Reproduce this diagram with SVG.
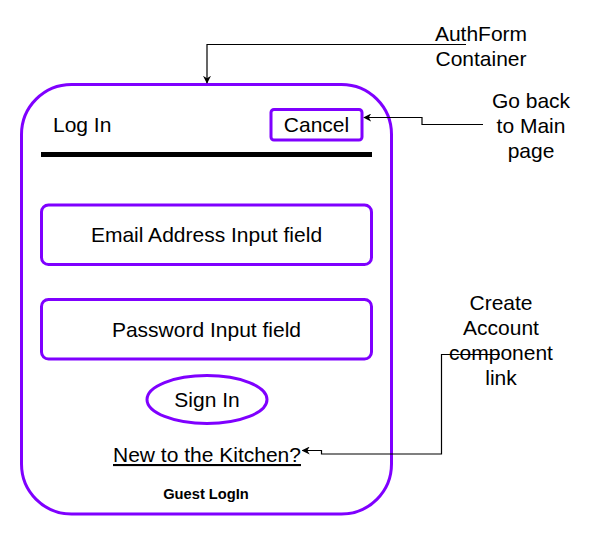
<svg xmlns="http://www.w3.org/2000/svg" width="602" height="536" viewBox="0 0 602 536">
<defs>
<style>
.pb{fill:#ffffff;stroke:#7F00FF;stroke-width:3}
.t{font-family:"Liberation Sans",Arial,sans-serif;font-size:21px;fill:#000000}
.c{text-anchor:middle}
.e{fill:none;stroke:#000000;stroke-width:1.2}
</style>
<marker id="ah" viewBox="0 0 10 10" refX="9" refY="5" markerWidth="8" markerHeight="8" markerUnits="userSpaceOnUse" orient="auto">
<path d="M0,0 L10,5 L0,10 L3,5 Z" fill="#000000"/>
</marker>
</defs>
<rect width="602" height="536" fill="#ffffff"/>
<g id="container">
<rect class="pb" x="21.5" y="84.5" width="370" height="429.5" rx="50" ry="50"/>
</g>
<g id="login-title">
<text class="t" x="53" y="132">Log In</text>
</g>
<g id="cancel">
<rect class="pb" x="271" y="109.5" width="91" height="30.5" rx="3"/>
<text class="t c" x="316.5" y="132">Cancel</text>
</g>
<g id="divider">
<line x1="41" y1="154.5" x2="372" y2="154.5" stroke="#000000" stroke-width="5"/>
</g>
<g id="email">
<rect class="pb" x="41.5" y="205" width="330" height="59.5" rx="7"/>
<text class="t c" x="206.5" y="242">Email Address Input field</text>
</g>
<g id="password">
<rect class="pb" x="41.5" y="299.5" width="330" height="59.5" rx="7"/>
<text class="t c" x="206.5" y="336.5">Password Input field</text>
</g>
<g id="signin">
<ellipse class="pb" cx="207" cy="399.5" rx="60" ry="24"/>
<text class="t c" x="207" y="407">Sign In</text>
</g>
<g id="new-link">
<text class="t c" x="207" y="462" text-decoration="underline">New to the Kitchen?</text>
</g>
<g id="guest">
<text class="t c" x="206" y="499" style="font-size:14.7px;font-weight:bold">Guest LogIn</text>
</g>
<g id="label-authform">
<text class="t c" x="481" y="40.5">AuthForm</text>
<text class="t c" x="481" y="65.5">Container</text>
</g>
<g id="label-goback">
<text class="t c" x="531" y="107.5">Go back</text>
<text class="t c" x="531" y="132.5">to Main</text>
<text class="t c" x="531" y="157.5">page</text>
</g>
<g id="label-create">
<text class="t c" x="501" y="309.5">Create</text>
<text class="t c" x="501" y="334.5">Account</text>
<text class="t c" x="501" y="359.5">component</text>
<text class="t c" x="501" y="385">link</text>
</g>
<g id="connectors">
<path class="e" d="M466,44.5 L207,44.5 L207,83" marker-end="url(#ah)"/>
<path class="e" d="M483,124.5 L422,124.5 L422,117.5 L364,117.5" marker-end="url(#ah)"/>
<path class="e" d="M500,354.5 L441.5,354.5 L441.5,454 L321.5,454 L321.5,450.5 L302.5,450.5" marker-end="url(#ah)"/>
</g>
</svg>
